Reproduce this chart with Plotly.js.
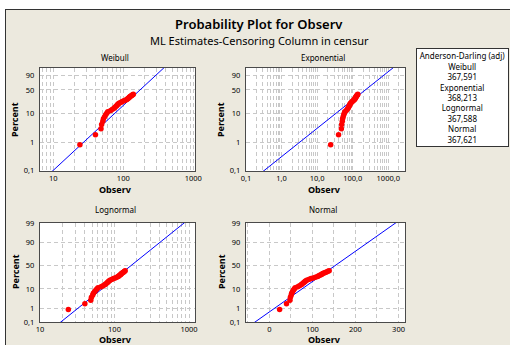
<!DOCTYPE html>
<html><head><meta charset="utf-8">
<script src="https://cdn.plot.ly/plotly-3.0.1.min.js"></script>
<style>
html,body{margin:0;padding:0;background:#ffffff;overflow:hidden;width:510px;height:345px;}
#chart{position:absolute;left:5px;top:9px;width:510px;height:340px;border-top:1px solid #333;border-left:1px solid #333;}
</style></head>
<body><div id="chart"></div>
<script>
// ---- data ----
const observ = [24, 40, 48, 49, 51, 52, 54, 56, 58, 60, 66, 70, 74, 76, 79, 81, 83, 85, 88, 93, 97, 102, 107, 112, 114, 117, 120, 122, 124, 127, 130, 133, 136, 139];
const percent = [0.81, 1.8, 2.9, 4.1, 5.3, 6.5, 7.6, 8.8, 9.9, 11.1, 12.2, 13.4, 14.5, 15.7, 16.8, 18.0, 19.1, 20.3, 21.4, 22.6, 23.7, 24.9, 26.0, 27.2, 28.3, 29.5, 30.6, 31.8, 32.9, 34.1, 35.2, 36.4, 37.5, 38.7];
const weibullShape = 2.29, weibullScale = 203;
const expMean = 325;
const lognormLoc = 5.118, lognormScale = 0.703;
const normalMean = 153, normalSd = 60.2;
const adLabels = ["Weibull", "Exponential", "Lognormal", "Normal"];
const adValues = ["367,591", "368,213", "367,588", "367,621"];
const probTicksW = [0.1, 1, 10, 50, 90];
const probTicksN = [0.1, 1, 10, 50, 90, 99];

// ---- probability scales ----
function weib(pc){ const p = pc/100; return Math.log(-Math.log(1-p)); }
function normInv(p){
  const a=[-3.969683028665376e+01,2.209460984245205e+02,-2.759285104469687e+02,1.383577518672690e+02,-3.066479806614716e+01,2.506628277459239e+00];
  const b=[-5.447609879822406e+01,1.615858368580409e+02,-1.556989798598866e+02,6.680131188771972e+01,-1.328068155288572e+01];
  const c=[-7.784894002430293e-03,-3.223964580411365e-01,-2.400758277161838e+00,-2.549671039520419e+00,4.374664141464968e+00,2.938163982698783e+00];
  const d=[7.784695709041462e-03,3.224671290700398e-01,2.445134137142996e+00,3.754408661907416e+00];
  const pl=0.02425, ph=1-pl; let q,r;
  if(p<pl){q=Math.sqrt(-2*Math.log(p));return (((((c[0]*q+c[1])*q+c[2])*q+c[3])*q+c[4])*q+c[5])/((((d[0]*q+d[1])*q+d[2])*q+d[3])*q+1);}
  if(p<=ph){q=p-0.5;r=q*q;return (((((a[0]*r+a[1])*r+a[2])*r+a[3])*r+a[4])*r+a[5])*q/(((((b[0]*r+b[1])*r+b[2])*r+b[3])*r+b[4])*r+1);}
  q=Math.sqrt(-2*Math.log(1-p));return -(((((c[0]*q+c[1])*q+c[2])*q+c[3])*q+c[4])*q+c[5])/((((d[0]*q+d[1])*q+d[2])*q+d[3])*q+1);
}
function norm(pc){ return normInv(pc/100); }
function fmt(v){ return String(v).replace('.', ','); }

function logGrid(lo, hi, labels){ // lo/hi as exponents
  const vals=[], txt=[];
  for(let k=Math.floor(lo); k<=Math.ceil(hi); k++){
    for(let dgt=1; dgt<=9; dgt++){
      const v = dgt*Math.pow(10,k);
      const lv = Math.log10(v);
      if(lv < lo-1e-9 || lv > hi+1e-9) continue;
      vals.push(v);
      txt.push(dgt===1 && labels[k]!==undefined ? labels[k] : '');
    }
  }
  return {tickvals: vals, ticktext: txt};
}

const gridCol = '#c8c8c8';
const tickFont = {family:'Noto Sans, sans-serif', size:7.5, color:'#000'};
function xax(extra){
  return Object.assign({showgrid:true, gridcolor:gridCol, griddash:'4px,3px', gridwidth:1,
    zeroline:false, showline:true, mirror:true, linecolor:'#4a4a4a', linewidth:1.2,
    ticks:'', tickfont:tickFont, tickmode:'array', ticklabelstandoff:0, fixedrange:true}, extra);
}
function yax(extra){
  return Object.assign({showgrid:true, gridcolor:gridCol, griddash:'4px,3px', gridwidth:1,
    zeroline:false, showline:true, mirror:true, linecolor:'#4a4a4a', linewidth:1.2,
    ticks:'', tickfont:tickFont, tickmode:'array', ticklabelstandoff:3, fixedrange:true}, extra);
}

// ranges
const rW = [0.81, 3.024], rE = [-1.0, 3.47], rL = [1.0, 3.08], rN = [-54, 315];
const yW = [-6.95, 1.42];
const yN = [normInv(0.001), normInv(0.99)];

const gW = logGrid(rW[0], rW[1], {1:'10', 2:'100', 3:'1000'});
const gE = logGrid(rE[0], rE[1], {'-1':'0,1', 0:'1,0', 1:'10,0', 2:'100,0', 3:'1000,0'});
const gL = logGrid(rL[0], rL[1], {1:'10', 2:'100', 3:'1000'});
const nVals = [], nTxt = [];
for(let v=-50; v<=300; v+=50){ nVals.push(v); nTxt.push(v%100===0 ? String(v) : ''); }

const dotStyle = {color:'#ff0000', size:5.5};
const lineStyle = {color:'#0000ff', width:1};

// fitted lines (straight in the transformed scales)
const xWl = [Math.pow(10, rW[0]), Math.pow(10, rW[1])];
const xEl = [Math.pow(10, rE[0]), Math.pow(10, rE[1])];
const xLl = [Math.pow(10, rL[0]), Math.pow(10, rL[1])];
const xNl = [rN[0], rN[1]];

const traces = [
  {x:xWl, y:xWl.map(x=>weibullShape*(Math.log(x)-Math.log(weibullScale))), xaxis:'x', yaxis:'y', mode:'lines', line:lineStyle},
  {x:observ, y:percent.map(weib), xaxis:'x', yaxis:'y', mode:'markers', marker:dotStyle},
  {x:xEl, y:xEl.map(x=>Math.log(x)-Math.log(expMean)), xaxis:'x2', yaxis:'y2', mode:'lines', line:lineStyle},
  {x:observ, y:percent.map(weib), xaxis:'x2', yaxis:'y2', mode:'markers', marker:dotStyle},
  {x:xLl, y:xLl.map(x=>(Math.log(x)-lognormLoc)/lognormScale), xaxis:'x3', yaxis:'y3', mode:'lines', line:lineStyle},
  {x:observ, y:percent.map(norm), xaxis:'x3', yaxis:'y3', mode:'markers', marker:dotStyle},
  {x:xNl, y:xNl.map(x=>(x-normalMean)/normalSd), xaxis:'x4', yaxis:'y4', mode:'lines', line:lineStyle},
  {x:observ, y:percent.map(norm), xaxis:'x4', yaxis:'y4', mode:'markers', marker:dotStyle}
];

const W = 510, H = 340;
const px = v => (v-6)/W, py = v => 1-(v-10)/H;
const dxL = [px(40), px(195)], dxR = [px(246), px(405)];
const dyT = [py(171), py(68)], dyB = [py(322), py(223)];

const smallFont = {family:'Noto Sans, sans-serif', size:8, color:'#000'};
const boldFont = {family:'Noto Sans, sans-serif', size:9, color:'#000', weight:700};
function ann(x, y, text, font, extra){ return Object.assign({xref:'paper', yref:'paper', x:px(x), y:py(y), text:text, showarrow:false, font:font, xanchor:'center', yanchor:'middle'}, extra||{}); }

const legendText = ['Anderson-Darling (adj)'].concat(...adLabels.map((l,i)=>[l, adValues[i]])).join('<br>');

const layout = {
  width:W, height:H, margin:{l:0,r:0,t:0,b:0}, autosize:false,
  paper_bgcolor:'#ece9de', plot_bgcolor:'#ffffff', showlegend:false,
  xaxis: xax({domain:dxL, anchor:'y', type:'log', range:rW, tickvals:gW.tickvals, ticktext:gW.ticktext}),
  yaxis: yax({domain:dyT, anchor:'x', range:yW, tickvals:probTicksW.map(weib), ticktext:probTicksW.map(fmt)}),
  xaxis2: xax({domain:dxR, anchor:'y2', type:'log', range:rE, tickvals:gE.tickvals, ticktext:gE.ticktext}),
  yaxis2: yax({domain:dyT, anchor:'x2', range:yW, tickvals:probTicksW.map(weib), ticktext:probTicksW.map(fmt)}),
  xaxis3: xax({domain:dxL, anchor:'y3', type:'log', range:rL, tickvals:gL.tickvals, ticktext:gL.ticktext}),
  yaxis3: yax({domain:dyB, anchor:'x3', range:yN, tickvals:probTicksN.map(norm), ticktext:probTicksN.map(fmt)}),
  xaxis4: xax({domain:dxR, anchor:'y4', range:rN, tickvals:nVals, ticktext:nTxt}),
  yaxis4: yax({domain:dyB, anchor:'x4', range:yN, tickvals:probTicksN.map(norm), ticktext:probTicksN.map(fmt)}),
  annotations: [
    ann(259, 24, 'Probability Plot for Observ', {family:'Noto Sans, sans-serif', size:13, color:'#000', weight:600}),
    ann(259, 40, 'ML Estimates-Censoring Column in censur', {family:'Noto Sans, sans-serif', size:11, color:'#000'}),
    ann(115, 58, 'Weibull', smallFont),
    ann(323, 58, 'Exponential', smallFont),
    ann(115, 209, 'Lognormal', smallFont),
    ann(323, 209, 'Normal', smallFont),
    ann(115, 189.5, 'Observ', boldFont),
    ann(324, 189.5, 'Observ', boldFont),
    ann(115, 339.5, 'Observ', boldFont),
    ann(324, 339.5, 'Observ', boldFont),
    ann(15, 120, 'Percent', boldFont, {textangle:-90}),
    ann(221, 120, 'Percent', boldFont, {textangle:-90}),
    ann(15, 272, 'Percent', boldFont, {textangle:-90}),
    ann(221, 272, 'Percent', boldFont, {textangle:-90}),
    ann(416, 48, legendText, smallFont, {xanchor:'left', yanchor:'top', align:'center', width:89, height:95, bgcolor:'#ffffff', bordercolor:'#333', borderwidth:1, borderpad:1, valign:'middle'})
  ]
};

Plotly.newPlot('chart', traces, layout, {staticPlot:true, displayModeBar:false});
</script>
</body></html>
